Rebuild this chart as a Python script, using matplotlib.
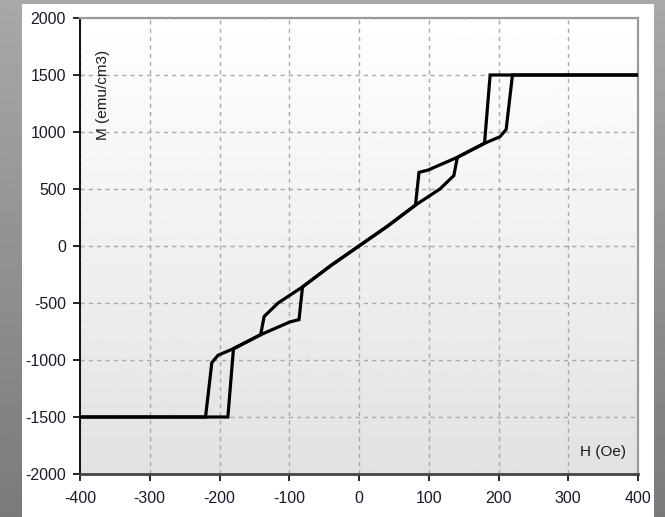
import numpy as np
import matplotlib
matplotlib.use("Agg")
import matplotlib.pyplot as plt
from matplotlib.patches import Rectangle

plt.rcParams["font.family"] = ["Liberation Sans", "DejaVu Sans"]
plt.rcParams["axes.unicode_minus"] = False

# 升场分支 (H 递增)，降场分支由点对称得到
H_up = [-400, -188, -180, -141, -99, -86, -81, -40, 0, 40, 81, 116, 136, 141, 182, 202, 211, 220, 400]
M_up = [-1500, -1500, -903, -778, -666, -646, -359, -170, 0, 170, 359, 500, 618, 778, 906, 958, 1023, 1500, 1500]

x_ticks = [-400, -300, -200, -100, 0, 100, 200, 300, 400]
y_ticks = [-2000, -1500, -1000, -500, 0, 500, 1000, 1500, 2000]

H_down = [-h for h in H_up]
M_down = [-m for m in M_up]

fig = plt.figure(figsize=(6.65, 5.17), dpi=100)

# 外框灰色渐变 + 白色底板
bg = fig.add_axes([0, 0, 1, 1], zorder=-10)
grad = np.linspace(0.66, 0.48, 256).reshape(-1, 1)
bg.imshow(grad, cmap="gray", vmin=0, vmax=1, aspect="auto", extent=[0, 1, 0, 1])
bg.add_patch(Rectangle((22 / 665, 0), (654 - 22) / 665, (517 - 4) / 517,
                       facecolor="white", edgecolor="none"))
bg.set_xlim(0, 1)
bg.set_ylim(0, 1)
bg.axis("off")

ax = fig.add_axes([80 / 665, 43 / 517, 558 / 665, 456 / 517])
ax.set_facecolor("none")

# 绘图区背景：上白下灰
pgrad = np.linspace(1.0, 0.885, 256).reshape(-1, 1)
ax.imshow(pgrad, cmap="gray", vmin=0, vmax=1, aspect="auto",
          extent=[-400, 400, -2000, 2000], zorder=0)

ax.plot(H_up, M_up, color="black", lw=2.3, zorder=3, solid_joinstyle="miter")
ax.plot(H_down, M_down, color="black", lw=2.3, zorder=3, solid_joinstyle="miter")

ax.set_xlim(-400, 400)
ax.set_ylim(-2000, 2000)
ax.set_xticks(x_ticks)
ax.set_yticks(y_ticks)
ax.grid(True, color="#a8a8a8", ls=(0, (3, 3)), lw=1, zorder=1)

ax.tick_params(axis="both", direction="out", length=5, width=1.2, color="black",
               labelsize=11.5, labelcolor="#1a1a2a")
ax.tick_params(axis="x", pad=7)
ax.tick_params(axis="y", pad=5)

for side in ("left", "bottom"):
    ax.spines[side].set_color("#111111")
    ax.spines[side].set_linewidth(1.4)
ax.spines["bottom"].set_color("#444444")
ax.spines["bottom"].set_linewidth(2)
for side in ("top", "right"):
    ax.spines[side].set_color("#9a9a9a")
    ax.spines[side].set_linewidth(1.6)

ax.text(0.041, 0.93, "M (emu/cm3)", transform=ax.transAxes, rotation=90,
        ha="center", va="top", fontsize=11, color="#1a1a1a")
ax.text(0.978, 0.048, "H (Oe)", transform=ax.transAxes,
        ha="right", va="center", fontsize=11, color="#1a1a1a")

fig.savefig("out.png", dpi=100)
